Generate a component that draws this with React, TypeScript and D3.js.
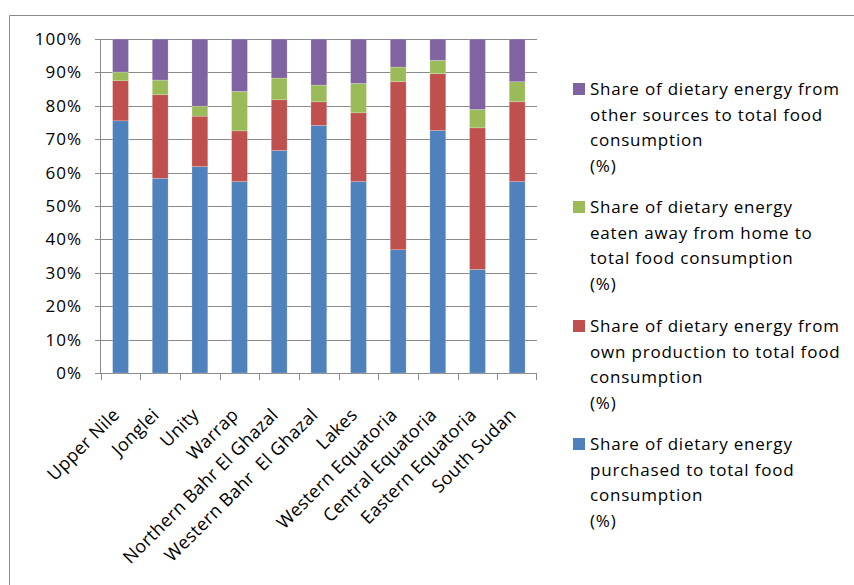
import React from "react";
import * as d3 from "d3";

const categories = [
  "Upper Nile", "Jonglei", "Unity", "Warrap", "Northern Bahr El Ghazal",
  "Western Bahr  El Ghazal", "Lakes", "Western Equatoria", "Central Equatoria",
  "Eastern Equatoria", "South Sudan",
];
const purchased = [75.5, 58.3, 61.8, 57.3, 66.6, 74.1, 57.3, 36.9, 72.6, 31.0, 57.3];
const ownProduction = [12.0, 25.0, 15.1, 15.2, 15.2, 7.1, 20.6, 50.3, 17.0, 42.4, 23.9];
const awayFromHome = [2.6, 4.4, 3.0, 11.8, 6.5, 5.0, 8.8, 4.4, 4.0, 5.5, 6.0];
const otherSources = [9.9, 12.3, 20.1, 15.7, 11.7, 13.8, 13.3, 8.4, 6.4, 21.1, 12.8];
const yTicks = [0, 10, 20, 30, 40, 50, 60, 70, 80, 90, 100];

const legendLines = [
  ["Share of dietary energy", "purchased to total food", "consumption", "(%)"],
  ["Share of dietary energy from", "own production to total food", "consumption", "(%)"],
  ["Share of dietary energy", "eaten away from home to", "total food consumption", "(%)"],
  ["Share of dietary energy from", "other sources to total food", "consumption", "(%)"],
];
const colors = ["#4F81BD", "#C0504D", "#9BBB59", "#8064A2"];
const seriesData = [purchased, ownProduction, awayFromHome, otherSources];

const FONT = "'Open Sans', sans-serif";

export default function App() {
  const W = 854, H = 585;
  const left = 100.7, right = 537, top = 39, bottom = 373;
  const x = d3.scaleBand<string>().domain(categories).range([left, right]).paddingInner(0.6).paddingOuter(0.3);
  const xOuter = d3.scaleBand<string>().domain(categories).range([left, right]);
  const y = d3.scaleLinear().domain([0, 100]).range([bottom, top]);

  const rows = categories.map((c, i) => {
    const r: any = { cat: c };
    seriesData.forEach((s, k) => (r["s" + k] = s[i]));
    return r;
  });
  const stacked = d3.stack<any>().keys(["s0", "s1", "s2", "s3"])(rows);

  const legendOrder = [3, 2, 1, 0];
  const legendFirstBaselines = [95, 213, 332, 450];

  return (
    <svg width={W} height={H} style={{ position: "absolute", left: 0, top: 0, background: "#fff" }}>
      <rect x={0} y={0} width={W} height={H} fill="#fff" />
      <path d={`M9.5,${H} L9.5,15.5 L${W},15.5`} fill="none" stroke="#8a8a8a" strokeWidth={1} />
      {yTicks.map((t) => (
        <line key={t} x1={95} x2={right} y1={Math.round(y(t)) + 0.5} y2={Math.round(y(t)) + 0.5} stroke="#8a8a8a" strokeWidth={1} />
      ))}
      <line x1={100.5} x2={100.5} y1={top} y2={bottom + 0.5} stroke="#8a8a8a" />
      {yTicks.map((t) => (
        <text key={t} x={82} y={y(t) + 6} textAnchor="end" fontFamily={FONT} fontSize={17} letterSpacing={1} fill="#000">
          {t}%
        </text>
      ))}
      {categories.map((c) => (
        <line key={c} x1={Math.round(xOuter(c)!) + 0.5} x2={Math.round(xOuter(c)!) + 0.5} y1={bottom} y2={bottom + 7} stroke="#8a8a8a" />
      ))}
      <line x1={right - 0.5} x2={right - 0.5} y1={bottom} y2={bottom + 7} stroke="#8a8a8a" />
      {stacked.map((layer, k) => (
        <g key={k} fill={colors[k]}>
          {layer.map((d, i) => (
            <rect
              key={i}
              x={x(categories[i])!}
              width={x.bandwidth()}
              y={y(d[1])}
              height={y(d[0]) - y(d[1])}
              stroke="#ffffff"
              strokeOpacity={0.35}
              strokeWidth={0.6}
            />
          ))}
        </g>
      ))}
      {categories.map((c) => {
        const cx = xOuter(c)! + xOuter.bandwidth() / 2;
        return (
          <text key={c} transform={`translate(${cx},${bottom + 43}) rotate(-45)`} textAnchor="end" fontFamily={FONT} fontSize={18} letterSpacing={0.3} fill="#000" style={{ whiteSpace: "pre" }}>
            {c}
          </text>
        );
      })}
      {legendOrder.map((k, j) => {
        const b = legendFirstBaselines[j];
        return (
          <g key={k}>
            <rect x={573} y={b - 12} width={12} height={12} fill={colors[k]} />
            {legendLines[k].map((ln, li) => (
              <text key={li} x={590} y={b + li * 25.7} fontFamily={FONT} fontSize={17} letterSpacing={0.8} fill="#000">
                {ln}
              </text>
            ))}
          </g>
        );
      })}
    </svg>
  );
}
